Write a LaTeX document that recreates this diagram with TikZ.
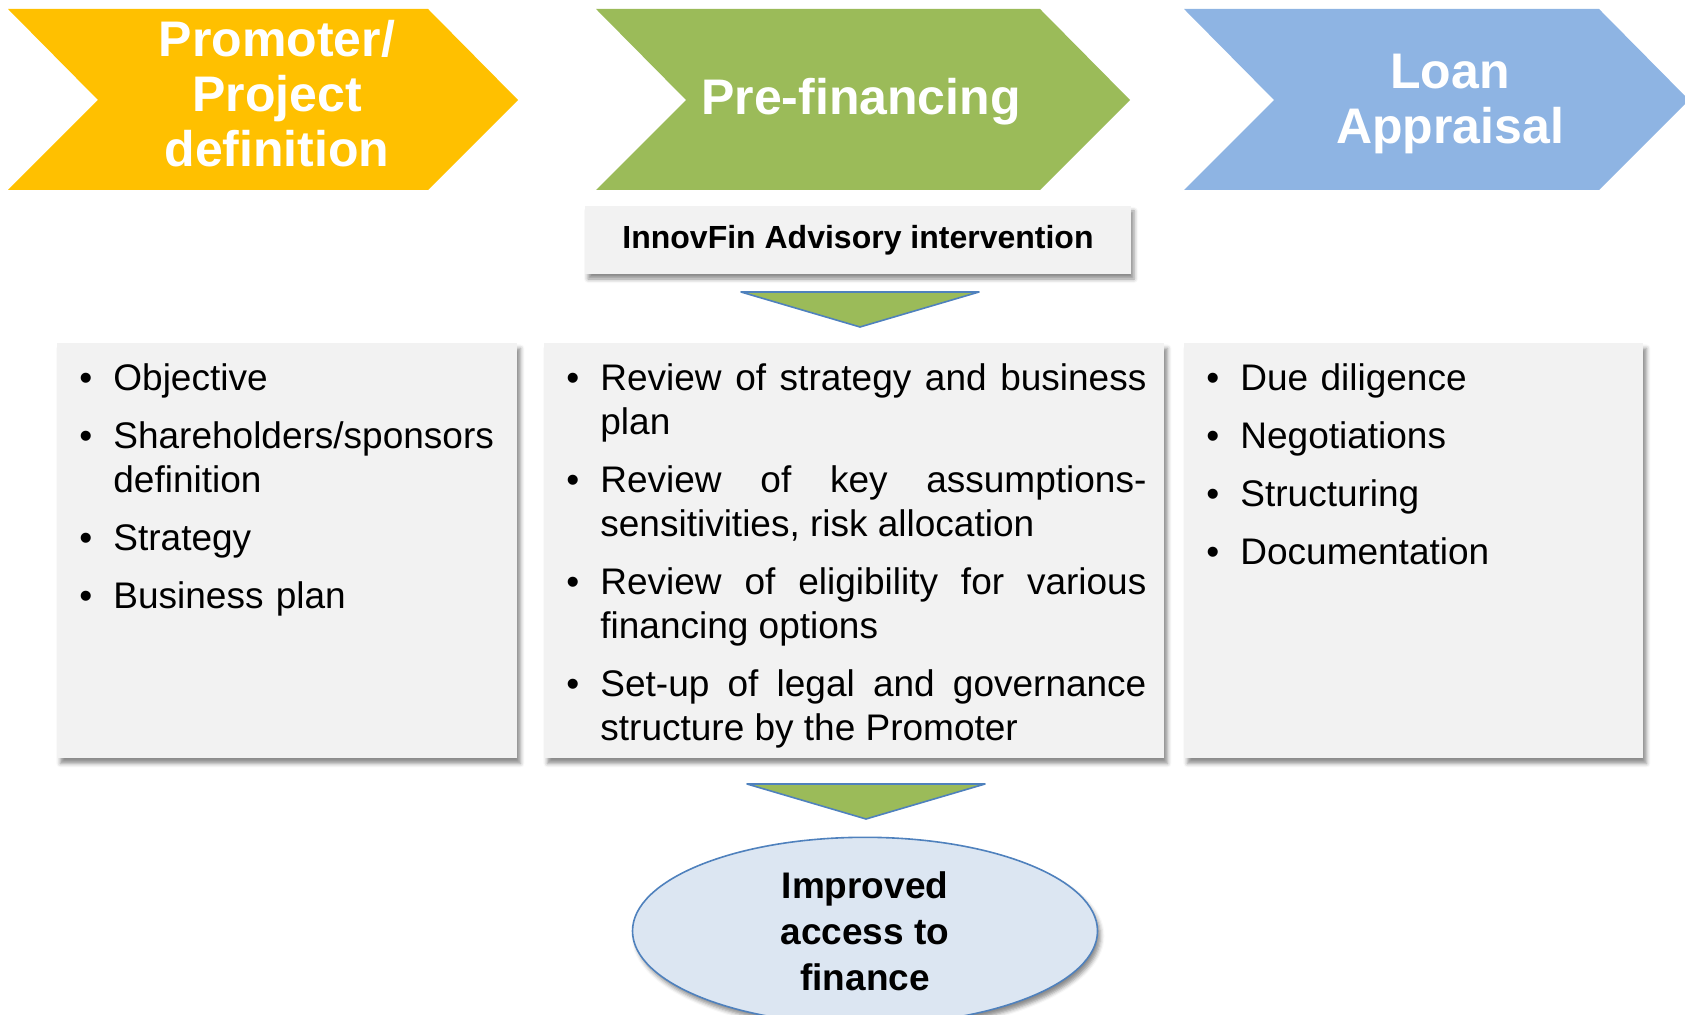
\documentclass[tikz,border=0pt]{standalone}
\usepackage{fontspec}
\setmainfont{Liberation Sans}
\usepackage{enumitem}
\usetikzlibrary{shapes.geometric,shadows.blur}

\definecolor{stageyellow}{HTML}{FFC000}
\definecolor{stagegreen}{HTML}{9BBB59}
\definecolor{stageblue}{HTML}{8EB4E3}
\definecolor{panelgray}{HTML}{F2F2F2}
\definecolor{outcomefill}{HTML}{DCE6F2}
\definecolor{edgeblue}{HTML}{4F81BD}

% bullet lists inside the three columns
\newlist{steplist}{itemize}{1}
\setlist[steplist]{label=\textbullet, labelindent=2pt, leftmargin=19pt, labelwidth=17pt,
  labelsep=*, align=left, itemsep=7pt, topsep=0pt, parsep=0pt, partopsep=0pt}
\tolerance=10000
\hyphenpenalty=10000

\begin{document}
\begin{tikzpicture}[x=0.5pt, y=-0.5pt,
    stagetext/.style={text=white, align=center, font=\fontsize{25pt}{27.5pt}\selectfont\bfseries},
    softshadow/.style={blur shadow={shadow xshift=1.5pt, shadow yshift=-2.5pt,
        shadow blur radius=2pt, shadow opacity=45}},
    panel/.style={fill=panelgray, anchor=north west, inner xsep=9pt, inner ysep=1.5pt,
        text height=0pt, text depth=204.5pt, font=\fontsize{18.5pt}{22pt}\selectfont, softshadow},
    funnel/.style={fill=stagegreen, draw=edgeblue, line width=0.8pt, line join=round}]

    \useasboundingbox (0,0) rectangle (1685,1015);

    % Stages
    \foreach \l/\r/\c in {8/428/stageyellow, 596/1040/stagegreen, 1184/1599/stageblue} {
        \fill[\c] (\l,9) -- (\r,9) -- (\r+90,100) -- (\r,190) -- (\l,190) -- (\l+90,100) -- cycle;
    }
    \node[stagetext] (promoter) at (277,94) {Promoter/\\Project\\definition};
    \node[stagetext, anchor=base] (prefin) at (861,115) {Pre-financing};
    \node[stagetext] (appraisal) at (1450,104) {Loan\\Appraisal};

    % Advisory banner
    \node[fill=panelgray, minimum width=273pt, minimum height=34pt, softshadow,
        font=\fontsize{16pt}{19pt}\selectfont\bfseries] (advisory) at (858,240)
        {InnovFin Advisory intervention};
    \draw[funnel] (741,292) -- (979,292) -- (860,327) -- cycle;

    % Columns
    \node[panel, text width=212pt, align=left] (colDef) at (57,343) {
        \begin{steplist}
            \item Objective
            \item Shareholders/sponsors definition
            \item Strategy
            \item Business plan
        \end{steplist}};
    \node[panel, text width=292pt, align=justify] (colPre) at (544,343) {
        \begin{steplist}
            \item Review of strategy and business\linebreak plan
            \item Review of key assumptions-\linebreak sensitivities, risk allocation
            \item Review of eligibility for various\linebreak financing options
            \item Set-up of legal and governance\linebreak structure by the Promoter
        \end{steplist}};
    \node[panel, text width=211.5pt, align=left] (colLoan) at (1184,343) {
        \begin{steplist}
            \item Due diligence
            \item Negotiations
            \item Structuring
            \item Documentation
        \end{steplist}};

    % Outcome
    \draw[funnel] (747,784) -- (985,784) -- (866,819) -- cycle;
    \node[ellipse, draw=edgeblue, fill=outcomefill, line width=0.8pt, minimum width=232.5pt,
        minimum height=88pt, align=center, softshadow,
        font=\fontsize{18.5pt}{23pt}\selectfont\bfseries] (outcome) at (865,931)
        {Improved\\access to\\finance};
\end{tikzpicture}
\end{document}
